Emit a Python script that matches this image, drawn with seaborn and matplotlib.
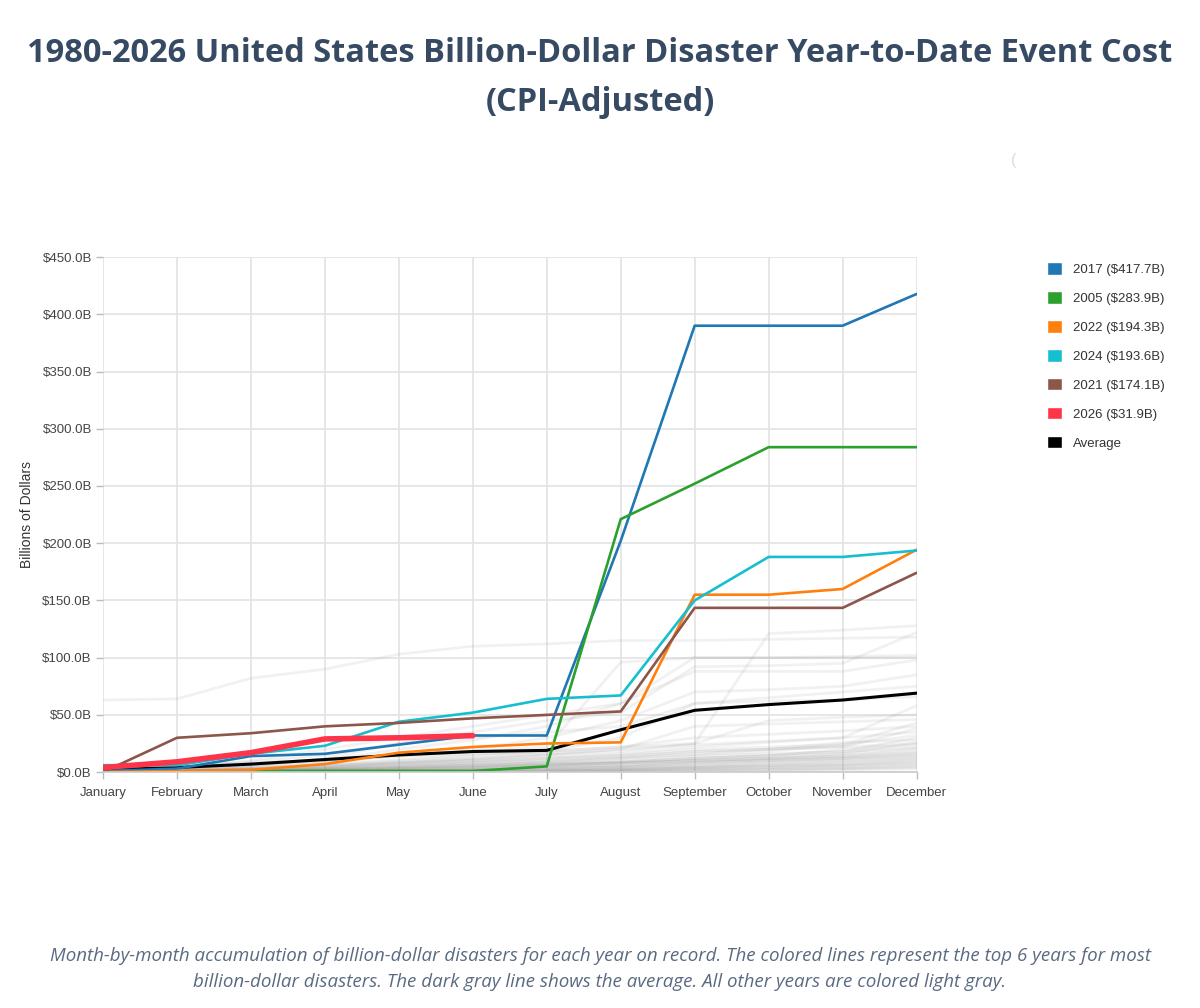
import matplotlib
matplotlib.use("Agg")
import matplotlib.pyplot as plt
import matplotlib.patches as mpatches
import seaborn as sns
import pandas as pd

months = ["January", "February", "March", "April", "May", "June",
          "July", "August", "September", "October", "November", "December"]

# top years, cumulative cost in billions (CPI-adjusted)
y2017 = [1, 3, 14, 16, 24, 32, 32, 202, 390, 390, 390, 417.7]
y2005 = [0, 0.5, 1, 1, 1, 1, 5, 221, 252, 283.9, 283.9, 283.9]
y2022 = [0, 1, 2, 7, 17, 22, 25, 26, 155, 155, 160, 194.3]
y2024 = [6, 6, 16, 23, 44, 52, 64, 67, 150, 188, 188, 193.6]
y2021 = [0, 30, 34, 40, 43, 47, 50, 53, 143.5, 143.5, 143.5, 174.1]
y2026 = [4, 9, 17, 29, 30, 31.9]
average = [2, 4, 7, 11, 15, 18, 19, 37, 54, 59, 63, 69]

top_labels = ["2017 ($417.7B)", "2005 ($283.9B)", "2022 ($194.3B)",
              "2024 ($193.6B)", "2021 ($174.1B)", "2026 ($31.9B)"]
top_colors = ["#1f77b4", "#2ca02c", "#ff7f0e", "#17becf", "#8c564b", "#fe3448"]

# all other years, read roughly off the light gray bundle
gray_years = [
    [63, 64, 82, 90, 103, 110, 112, 115, 115, 116, 117, 118],
    [2, 5, 8, 10, 14, 16, 18, 22, 25, 121, 124, 128],
    [1, 3, 6, 10, 20, 28, 40, 60, 100, 100, 101, 102],
    [0, 2, 5, 12, 25, 35, 45, 52, 92, 93, 95, 122],
    [1, 4, 10, 20, 30, 40, 50, 60, 88, 88, 88, 98],
    [0, 1, 3, 8, 15, 20, 30, 45, 70, 72, 75, 85],
    [3, 5, 9, 15, 25, 30, 35, 40, 60, 62, 63, 66],
    [0, 0, 2, 4, 8, 12, 15, 18, 25, 45, 48, 50],
    [2, 4, 6, 10, 14, 18, 22, 96, 100, 100, 100, 100],
    [0, 1, 2, 4, 6, 9, 12, 15, 20, 22, 24, 43],
    [1, 2, 4, 7, 11, 15, 18, 22, 30, 33, 36, 40],
    [0, 0, 1, 3, 5, 8, 10, 13, 18, 20, 22, 38],
    [0, 2, 3, 5, 9, 12, 16, 20, 24, 27, 30, 35],
    [1, 1, 2, 3, 5, 7, 9, 12, 15, 18, 24, 32],
    [0, 0, 0, 2, 4, 6, 8, 10, 14, 16, 18, 30],
    [0, 1, 2, 3, 6, 8, 10, 12, 16, 20, 26, 28],
    [0, 0, 1, 2, 3, 5, 7, 9, 12, 14, 16, 26],
    [2, 3, 4, 6, 8, 10, 12, 14, 18, 20, 22, 25],
    [0, 0, 1, 1, 2, 4, 6, 8, 12, 14, 20, 24],
    [0, 1, 1, 2, 4, 6, 8, 9, 12, 15, 18, 22],
    [0, 0, 0, 1, 3, 5, 6, 8, 10, 12, 16, 21],
    [1, 1, 2, 3, 4, 6, 7, 8, 10, 12, 14, 20],
    [0, 0, 1, 2, 3, 4, 6, 8, 10, 12, 14, 18],
    [0, 0, 0, 1, 2, 3, 5, 6, 9, 11, 13, 17],
    [0, 1, 1, 2, 3, 4, 5, 6, 8, 10, 12, 16],
    [0, 0, 0, 0, 1, 2, 4, 5, 8, 10, 12, 15],
    [0, 0, 1, 1, 2, 3, 4, 5, 7, 9, 11, 14],
    [0, 0, 0, 1, 1, 2, 3, 4, 6, 8, 10, 13],
    [0, 0, 0, 0, 1, 2, 3, 4, 5, 7, 9, 12],
    [0, 0, 0, 1, 1, 2, 2, 3, 5, 6, 8, 11],
    [0, 0, 0, 0, 1, 1, 2, 3, 4, 6, 7, 10],
    [0, 0, 0, 0, 0, 1, 2, 2, 4, 5, 6, 9],
    [0, 0, 0, 0, 1, 1, 1, 2, 3, 4, 6, 8],
    [0, 0, 0, 0, 0, 1, 1, 2, 3, 4, 5, 7],
    [0, 0, 0, 0, 0, 0, 1, 1, 2, 3, 4, 6],
    [0, 0, 0, 0, 0, 0, 1, 1, 2, 2, 3, 5],
    [0, 0, 0, 0, 0, 0, 0, 1, 1, 2, 3, 4],
    [0, 0, 0, 0, 0, 0, 0, 1, 1, 1, 2, 3],
    [0, 1, 2, 4, 7, 10, 13, 16, 22, 26, 30, 58],
    [1, 2, 3, 5, 8, 11, 15, 20, 40, 42, 44, 46],
    [0, 1, 3, 6, 10, 14, 18, 30, 60, 65, 70, 75],
]

sns.set_theme(style="whitegrid")
plt.rcParams["font.family"] = ["Liberation Sans", "DejaVu Sans"]

fig = plt.figure(figsize=(12, 10.08), dpi=100)
ax = fig.add_axes([0.0858, 0.234, 0.678, 0.511])

rows = []
for i, vals in enumerate(gray_years):
    for m, v in enumerate(vals):
        rows.append({"year": i, "month": m, "cost": v})
gray_df = pd.DataFrame(rows)
sns.lineplot(data=gray_df, x="month", y="cost", units="year", estimator=None,
             color="#888888", alpha=0.11, linewidth=2, ax=ax, legend=False)

avg_df = pd.DataFrame({"month": range(12), "cost": average})
sns.lineplot(data=avg_df, x="month", y="cost", color="black", linewidth=2.2, ax=ax)

top_series = [y2017, y2005, y2022, y2024, y2021, y2026]
for vals, col in zip(top_series, top_colors):
    d = pd.DataFrame({"month": range(len(vals)), "cost": vals})
    lw = 4 if col == "#fe3448" else 1.9
    sns.lineplot(data=d, x="month", y="cost", color=col, linewidth=lw, ax=ax)

ax.set_xlim(0, 11)
ax.set_ylim(0, 450)
ax.set_xticks(range(12))
ax.set_xticklabels(months)
yt = list(range(0, 451, 50))
ax.set_yticks(yt)
ax.set_yticklabels([f"${v:.1f}B" for v in yt])
ax.set_xlabel("")
ax.set_ylabel("Billions of Dollars", fontsize=10, color="#333333", labelpad=6)
ax.grid(True, color="#e3e3e3", linewidth=1.2)
for s in ["top", "right", "left"]:
    ax.spines[s].set_visible(False)
ax.spines["bottom"].set_color("#cccccc")
ax.tick_params(axis="both", labelsize=9.5, colors="#444444", length=5,
               width=1, bottom=True, left=True)
ax.tick_params(axis="x", color="#bbbbbb", pad=6)
ax.tick_params(axis="y", color="#bbbbbb", pad=3)

handles = [mpatches.Patch(facecolor=c, edgecolor="white", label=l)
           for c, l in zip(top_colors, top_labels)]
handles.append(mpatches.Patch(facecolor="black", edgecolor="white", label="Average"))
leg = fig.legend(handles=handles, loc="upper left", bbox_to_anchor=(0.863, 0.752),
                 frameon=False, fontsize=9.5, handlelength=1.1, handleheight=1.1,
                 labelspacing=1.15, handletextpad=0.8)
for t in leg.get_texts():
    t.set_color("#333333")

title_font = ["Open Sans", "DejaVu Sans"]
fig.text(0.5, 0.947, "1980-2026 United States Billion-Dollar Disaster Year-to-Date Event Cost",
         ha="center", va="center", fontsize=23.5, fontweight="bold", color="#364a63",
         family=title_font)
fig.text(0.5, 0.898, "(CPI-Adjusted)", ha="center", va="center", fontsize=23.5,
         fontweight="bold", color="#364a63", family=title_font)
fig.text(0.845, 0.841, "(", ha="center", va="center", fontsize=12, color="#dddddd")

caption = ("Month-by-month accumulation of billion-dollar disasters for each year on record. "
           "The colored lines represent the top 6 years for most\n"
           "billion-dollar disasters. The dark gray line shows the average. "
           "All other years are colored light gray.")
fig.text(0.5, 0.039, caption, ha="center", va="center", fontsize=13.5, style="italic",
         color="#5a6a80", linespacing=1.58, family=title_font)

fig.savefig("out.png", dpi=100)
